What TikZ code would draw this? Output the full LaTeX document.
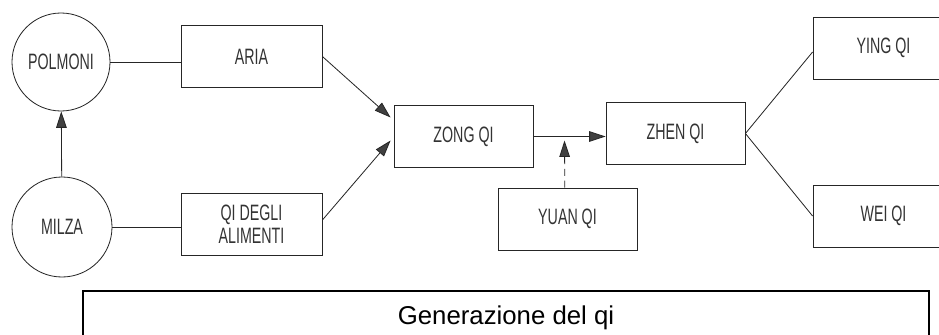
\documentclass[tikz,border=0pt]{standalone}
\usepackage{fontspec}
\setmainfont{Liberation Sans}
\newfontfamily\condfont[FakeStretch=0.64]{Liberation Sans}
\usetikzlibrary{arrows.meta,positioning}

\tikzset{
  organ/.style={draw=black!85, line width=0.7pt, circle, minimum size=2.94cm, inner sep=0pt,
    font=\condfont\fontsize{19}{21}\selectfont, text=black!80},
  qibox/.style={draw=black!85, line width=0.7pt, rectangle, minimum width=4.23cm, minimum height=1.86cm,
    inner sep=0pt, align=center, font=\condfont\fontsize{19}{20}\selectfont, text=black!80},
  feed/.style={draw=black!85, line width=0.7pt, -{Triangle[length=14pt,width=9pt,fill=black!75]}},
  link/.style={draw=black!85, line width=0.7pt},
  captionbox/.style={draw=black, line width=2pt, minimum width=25.38cm, minimum height=1.62cm,
    font=\fontsize{22}{26}\selectfont}
}

\begin{document}
\begin{tikzpicture}[x=0.03cm, y=-0.03cm]
    \useasboundingbox (0,0) rectangle (939,335);

    % organs
    \node[organ] (polmoni) at (61,62) {POLMONI};
    \node[organ, minimum size=3cm] (milza) at (62,227) {MILZA};

    % sources
    \node[qibox] (aria) at (251.5,56.5) {ARIA};
    \node[qibox] (alimenti) at (251.5,224) {QI DEGLI\\ALIMENTI};

    % qi
    \node[qibox, minimum width=4.17cm] (zong) at (463.5,136.5) {ZONG QI};
    \node[qibox, minimum width=4.17cm] (zhen) at (675.5,133.5) {ZHEN QI};
    \node[qibox, minimum width=4.17cm] (yuan) at (567.5,219) {YUAN QI};
    \node[qibox] (ying) at (883.5,48) {YING QI};
    \node[qibox] (wei) at (883.5,216) {WEI QI};

    \node[captionbox] (titolo) at (506,318) {Generazione del qi};

    \draw[feed] (milza) -- (polmoni);
    \draw[link] (polmoni.east) -- (polmoni.east -| aria.west);
    \draw[link] (milza.east) -- (milza.east -| alimenti.west);
    \draw[feed] (aria.east) -- ([shift={(-3,-19)}]zong.west);
    \draw[feed] ([yshift=0.12cm]alimenti.east) -- ([shift={(-3,4)}]zong.west);
    \draw[feed] (zong.east) -- (zong.east -| zhen.west);
    \draw[feed, dashed, dash pattern=on 6pt off 4pt] ([xshift=-0.08cm]yuan.north) -- ([shift={(-3,4)}]yuan.north |- zong.east);
    \draw[link] (zhen.east) -- ([yshift=-0.12cm]ying.west);
    \draw[link] (zhen.east) -- (wei.west);
\end{tikzpicture}
\end{document}
